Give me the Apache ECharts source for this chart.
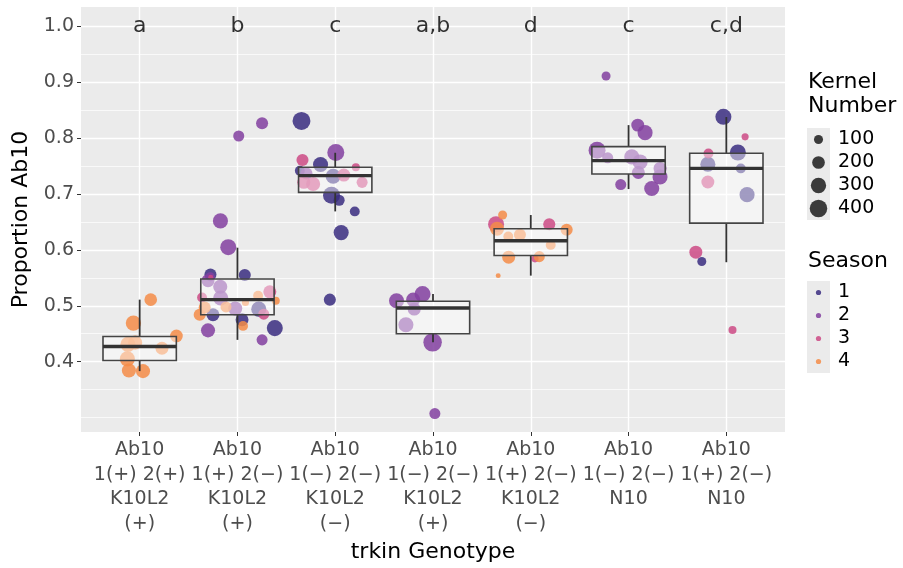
<!DOCTYPE html>
<html>
<head>
<meta charset="utf-8">
<script src="https://cdn.jsdelivr.net/npm/echarts@6/dist/echarts.min.js"></script>
<style>
  html, body { margin: 0; padding: 0; background: #fff; }
  #chart { width: 903px; height: 568px; }
</style>
</head>
<body>
<div id="chart"></div>
<script>
// category labels along x (positions 1..7)
var genotypes = [
    'Ab10\n1(+) 2(+)\nK10L2\n(+)',
    'Ab10\n1(+) 2(\u2212)\nK10L2\n(+)',
    'Ab10\n1(\u2212) 2(\u2212)\nK10L2\n(\u2212)',
    'Ab10\n1(\u2212) 2(\u2212)\nK10L2\n(+)',
    'Ab10\n1(+) 2(\u2212)\nK10L2\n(\u2212)',
    'Ab10\n1(\u2212) 2(\u2212)\nN10',
    'Ab10\n1(+) 2(\u2212)\nN10'
]
var groupLetters = ['a', 'b', 'c', 'a,b', 'd', 'c', 'c,d']
var xTicks = [1, 2, 3, 4, 5, 6, 7]
var yTicks = [0.4, 0.5, 0.6, 0.7, 0.8, 0.9, 1.0]
var yMinorTicks = [0.3, 0.35, 0.45, 0.55, 0.65, 0.75, 0.85, 0.95]

// boxplot stats: [x, lower whisker, Q1, median, Q3, upper whisker]
var boxStats = [
    [1, 0.383, 0.402, 0.427, 0.445, 0.511],
    [2, 0.439, 0.484, 0.511, 0.548, 0.604],
    [3, 0.669, 0.703, 0.733, 0.748, 0.774],
    [4, 0.4345, 0.450, 0.496, 0.508, 0.521],
    [5, 0.554, 0.590, 0.6165, 0.638, 0.6625],
    [6, 0.709, 0.736, 0.760, 0.785, 0.8235],
    [7, 0.578, 0.648, 0.746, 0.773, 0.838]
]

// jittered points: [x, proportion Ab10, kernel number]
var season1 = [
    [1.724, 0.556, 180], [2.075, 0.555, 180], [1.750, 0.484, 210], [2.218, 0.494, 290],
    [2.047, 0.475, 210], [2.382, 0.460, 330],
    [2.655, 0.831, 420], [2.850, 0.753, 290], [2.638, 0.742, 120], [2.979, 0.732, 290],
    [2.962, 0.698, 375], [3.040, 0.689, 150], [3.200, 0.669, 120], [3.061, 0.631, 290],
    [2.945, 0.511, 180],
    [6.970, 0.8384, 330], [7.118, 0.7745, 330], [6.811, 0.7535, 290], [7.148, 0.746, 120],
    [7.212, 0.699, 290], [6.749, 0.5793, 100]
]
var season2 = [
    [2.013, 0.804, 150], [2.252, 0.827, 180], [1.826, 0.652, 290], [1.906, 0.605, 330],
    [1.722, 0.552, 100], [1.699, 0.545, 210], [1.824, 0.534, 250], [1.829, 0.514, 290],
    [1.977, 0.495, 250], [1.699, 0.456, 250], [2.252, 0.439, 150],
    [3.006, 0.7745, 375], [2.706, 0.737, 180],
    [3.627, 0.509, 290], [3.893, 0.521, 330], [3.797, 0.511, 250], [3.808, 0.494, 210],
    [3.723, 0.466, 290], [3.996, 0.4345, 450], [4.019, 0.307, 150],
    [5.770, 0.9115, 100], [6.094, 0.8235, 210], [6.169, 0.810, 290], [5.678, 0.7786, 375],
    [5.787, 0.765, 150], [6.033, 0.7666, 290], [6.118, 0.7576, 290], [6.322, 0.746, 210],
    [6.100, 0.7386, 210], [6.322, 0.7307, 290], [5.920, 0.717, 150], [6.237, 0.710, 290]
]
var season3 = [
    [1.727, 0.551, 40], [1.638, 0.515, 120], [2.331, 0.525, 210], [2.269, 0.485, 150],
    [2.665, 0.761, 180], [3.211, 0.748, 80], [3.088, 0.734, 210], [2.679, 0.721, 210],
    [2.774, 0.718, 250], [3.275, 0.721, 150],
    [4.645, 0.646, 330], [5.189, 0.646, 180], [5.043, 0.584, 65],
    [7.192, 0.8025, 65], [6.817, 0.7727, 120], [6.811, 0.7217, 210], [6.688, 0.596, 210],
    [7.063, 0.4567, 80]
]
var season4 = [
    [1.113, 0.511, 200], [0.936, 0.469, 300], [1.376, 0.446, 200], [0.880, 0.431, 290],
    [0.954, 0.434, 250], [1.228, 0.424, 210], [0.874, 0.405, 290], [0.890, 0.384, 250],
    [1.034, 0.383, 250],
    [2.211, 0.518, 120], [2.392, 0.509, 80], [1.665, 0.497, 180], [1.614, 0.484, 180],
    [1.883, 0.498, 150], [2.082, 0.506, 65], [2.057, 0.464, 120],
    [4.712, 0.6625, 100], [4.655, 0.638, 250], [5.367, 0.636, 180], [4.770, 0.624, 120],
    [4.889, 0.627, 180], [5.204, 0.609, 120], [4.774, 0.587, 210], [5.087, 0.588, 150],
    [4.667, 0.554, 40]
]
var seasonNames = ['1', '2', '3', '4']
var sizeBreaks = [100, 200, 300, 400]

var seasonColors = ['#3a2d80', '#833fa0', '#cc4a85', '#f48c48']
var FONT = 'DejaVu Sans'

// area scale for kernel number -> symbol diameter (px)
function sizeOf(k) {
    var t = Math.max(0, (k - 30) / 420)
    return 2.5 + 16 * Math.sqrt(t)
}

var chart = echarts.init(document.getElementById('chart'))

var gridLines = []
yMinorTicks.forEach(function (v) { gridLines.push({ yAxis: v, lineStyle: { width: 0.7 } }) })
yTicks.forEach(function (v) { gridLines.push({ yAxis: v, lineStyle: { width: 1.4 } }) })
xTicks.forEach(function (v) { gridLines.push({ xAxis: v, lineStyle: { width: 1.4 } }) })

var seriesData = [season1, season2, season3, season4]
var series = [{
    name: 'grid',
    type: 'line',
    data: [],
    z: 1,
    markLine: {
        z: 1,
        silent: true,
        animation: false,
        symbol: ['none', 'none'],
        label: { show: false },
        emphasis: { disabled: true },
        lineStyle: { color: '#ffffff', type: 'solid' },
        data: gridLines
    }
}]
seriesData.forEach(function (pts, i) {
    series.push({
        name: seasonNames[i],
        type: 'scatter',
        data: pts,
        z: 2,
        symbol: 'circle',
        symbolSize: function (val) { return sizeOf(val[2]) },
        itemStyle: { color: seasonColors[i], opacity: 0.85 }
    })
})
series.push({
    name: 'box',
    type: 'custom',
    z: 3,
    data: boxStats,
    renderItem: function (params, api) {
        var x = api.value(0)
        var lo = api.coord([x, api.value(1)])
        var q1 = api.coord([x, api.value(2)])
        var med = api.coord([x, api.value(3)])
        var q3 = api.coord([x, api.value(4)])
        var hi = api.coord([x, api.value(5)])
        var xl = api.coord([x - 0.375, api.value(3)])[0]
        var xr = api.coord([x + 0.375, api.value(3)])[0]
        var stroke = '#333333'
        return {
            type: 'group',
            children: [
                { type: 'line', shape: { x1: hi[0], y1: hi[1], x2: q3[0], y2: q3[1] },
                  style: { stroke: stroke, lineWidth: 1.8 } },
                { type: 'line', shape: { x1: lo[0], y1: lo[1], x2: q1[0], y2: q1[1] },
                  style: { stroke: stroke, lineWidth: 1.8 } },
                { type: 'rect', shape: { x: xl, y: q3[1], width: xr - xl, height: q1[1] - q3[1] },
                  style: { fill: 'rgba(255,255,255,0.45)', stroke: '#444', lineWidth: 1.6 } },
                { type: 'line', shape: { x1: xl, y1: med[1], x2: xr, y2: med[1] },
                  style: { stroke: stroke, lineWidth: 3.4 } }
            ]
        }
    }
})
series.push({
    name: 'letters',
    type: 'scatter',
    z: 4,
    symbolSize: 0,
    silent: true,
    data: groupLetters.map(function (s, i) { return [xTicks[i], 1.0] }),
    label: {
        show: true,
        position: 'inside',
        color: '#000',
        fontFamily: FONT,
        fontSize: 22,
        formatter: function (p) { return groupLetters[p.dataIndex] }
    }
})

// legends (ggplot style)
var graphics = []
graphics.push({ type: 'text', left: 808, top: 70,
    style: { text: 'Kernel\nNumber', fontFamily: FONT, fontSize: 22, lineHeight: 24, fill: '#000' } })
graphics.push({ type: 'rect', shape: { x: 807, y: 128, width: 23, height: 92 }, style: { fill: '#ebebeb' } })
sizeBreaks.forEach(function (k, i) {
    var cy = 139.5 + i * 23
    graphics.push({ type: 'circle', shape: { cx: 818.5, cy: cy, r: sizeOf(k) / 2 },
        style: { fill: 'rgba(0,0,0,0.75)' } })
    graphics.push({ type: 'text', x: 838, y: cy,
        style: { text: String(k), fontFamily: FONT, fontSize: 19, fill: '#000', verticalAlign: 'middle' } })
})
graphics.push({ type: 'text', left: 808, top: 250,
    style: { text: 'Season', fontFamily: FONT, fontSize: 22, fill: '#000' } })
graphics.push({ type: 'rect', shape: { x: 807, y: 281, width: 23, height: 92 }, style: { fill: '#ebebeb' } })
seasonNames.forEach(function (s, i) {
    var cy = 292.5 + i * 23
    graphics.push({ type: 'circle', shape: { cx: 818.5, cy: cy, r: 2.6 },
        style: { fill: seasonColors[i], opacity: 0.85 } })
    graphics.push({ type: 'text', x: 838, y: cy,
        style: { text: s, fontFamily: FONT, fontSize: 19, fill: '#000', verticalAlign: 'middle' } })
})

chart.setOption({
    animation: false,
    backgroundColor: '#ffffff',
    textStyle: { fontFamily: FONT },
    grid: {
        left: 81, right: 118, top: 7, bottom: 136,
        show: true, backgroundColor: '#ebebeb', borderWidth: 0
    },
    xAxis: {
        type: 'value',
        min: 0.4,
        max: 7.6,
        name: 'trkin Genotype',
        nameLocation: 'middle',
        nameGap: 106,
        nameTextStyle: { color: '#000', fontSize: 22, fontFamily: FONT },
        axisLine: { show: false },
        splitLine: { show: false },
        axisTick: { show: true, customValues: xTicks, length: 4, lineStyle: { color: '#333' } },
        axisLabel: {
            customValues: xTicks,
            color: '#4d4d4d',
            fontSize: 19,
            lineHeight: 24.5,
            margin: 6,
            fontFamily: FONT,
            formatter: function (v) { return genotypes[Math.round(v) - 1] }
        }
    },
    yAxis: {
        type: 'value',
        min: 0.274,
        max: 1.035,
        name: 'Proportion Ab10',
        nameLocation: 'middle',
        nameGap: 49,
        nameTextStyle: { color: '#000', fontSize: 22, fontFamily: FONT },
        axisLine: { show: false },
        splitLine: { show: false },
        axisTick: { show: true, customValues: yTicks, length: 4, lineStyle: { color: '#333' } },
        axisLabel: {
            customValues: yTicks,
            color: '#4d4d4d',
            fontSize: 19,
            margin: 7,
            fontFamily: FONT,
            formatter: function (v) { return v.toFixed(1) }
        }
    },
    graphic: graphics,
    series: series
})
</script>
</body>
</html>
